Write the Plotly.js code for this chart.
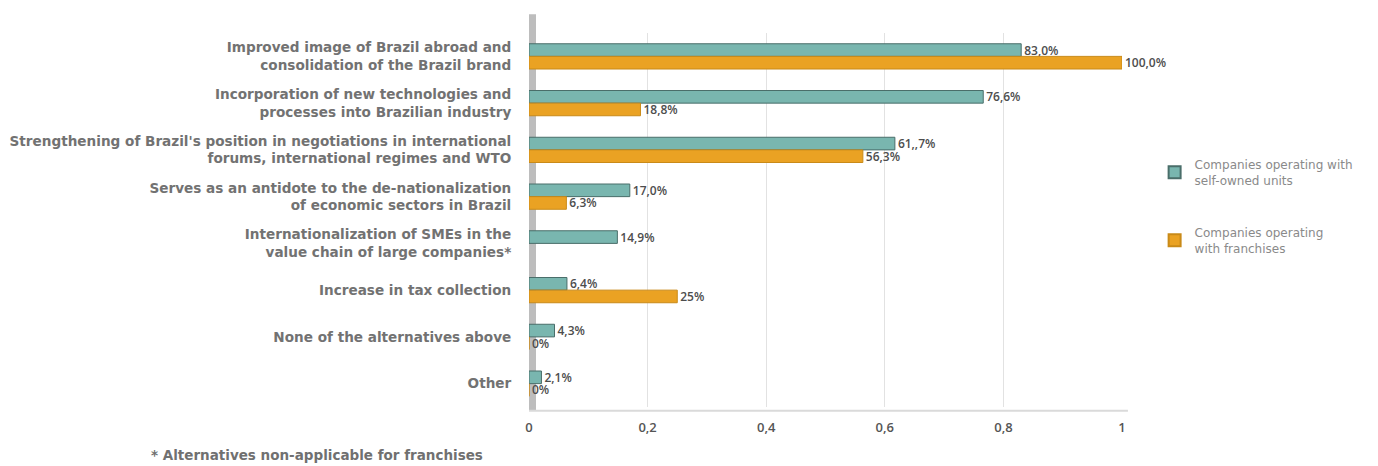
<!DOCTYPE html>
<html>
<head>
<meta charset="utf-8">
<script src="https://cdn.plot.ly/plotly-3.0.1.min.js"></script>
<style>html,body{margin:0;padding:0;background:#fff;}#chart{width:1378px;height:466px;}</style>
</head>
<body>
<div id="chart"></div>
<script>
const categories = [
  "Improved image of Brazil abroad and<br>consolidation of the Brazil brand",
  "Incorporation of new technologies and<br>processes into Brazilian industry",
  "Strengthening of Brazil's position in negotiations in international<br>forums, international regimes and WTO",
  "Serves as an antidote to the de-nationalization<br>of economic sectors in Brazil",
  "Internationalization of SMEs in the<br>value chain of large companies*",
  "Increase in tax collection",
  "None of the alternatives above",
  "Other"
];
const selfOwned = [0.830, 0.766, 0.617, 0.170, 0.149, 0.064, 0.043, 0.021];
const selfOwnedLabels = ["83,0%", "76,6%", "61,,7%", "17,0%", "14,9%", "6,4%", "4,3%", "2,1%"];
const franchises = [1.000, 0.188, 0.563, 0.063, null, 0.25, 0, 0];
const franchisesLabels = ["100,0%", "18,8%", "56,3%", "6,3%", "", "25%", "0%", "0%"];
const tickVals = [0, 0.2, 0.4, 0.6, 0.8, 1];
const tickLabels = ["0", "0,2", "0,4", "0,6", "0,8", "1"];
const seriesNames = ["Companies operating with<br>self-owned units", "Companies operating<br>with franchises"];
const footnote = "* Alternatives non-applicable for franchises";

const labelFont = {family: "Open Sans, sans-serif", size: 12, color: "#4d4d4d", weight: 600};

const traces = [
  {
    type: "bar", orientation: "h", name: seriesNames[0], legendgroup: "a",
    y: categories, x: selfOwned, text: selfOwnedLabels,
    textposition: "outside", constraintext: "none", cliponaxis: false, textfont: labelFont,
    marker: {color: "#79b6af", line: {color: "#4a6e6a", width: 1}},
    hoverinfo: "skip"
  },
  {
    type: "bar", orientation: "h", name: seriesNames[1], legendgroup: "b",
    y: categories, x: franchises, text: franchisesLabels,
    textposition: "outside", constraintext: "none", cliponaxis: false, textfont: labelFont,
    marker: {color: "#eaa223", line: {color: "#c98a18", width: 1}},
    hoverinfo: "skip"
  }
];

const layout = {
  width: 1378, height: 466,
  margin: {l: 529, r: 256, t: 33, b: 59},
  paper_bgcolor: "#ffffff", plot_bgcolor: "#ffffff",
  barmode: "group", bargap: 0.46, bargroupgap: 0,
  showlegend: true,
  legend: {
    x: 1.055, xanchor: "left", y: 0.687, yanchor: "top",
    font: {family: "DejaVu Sans, sans-serif", size: 12, color: "#8a8a8a"},
    tracegroupgap: 34, itemsizing: "constant", bgcolor: "rgba(0,0,0,0)"
  },
  xaxis: {
    range: [0, 1], tickvals: tickVals, ticktext: tickLabels,
    showgrid: true, gridcolor: "#e2e2e2", gridwidth: 1,
    zeroline: false, showline: false,
    tickfont: {family: "Open Sans, sans-serif", size: 13, color: "#555555", weight: 600},
    ticks: "outside", ticklen: 8, tickcolor: "rgba(0,0,0,0)"
  },
  yaxis: {
    autorange: "reversed", type: "category",
    showgrid: false, zeroline: false, showline: false,
    tickfont: {family: "DejaVu Sans, sans-serif", size: 13.6, color: "#727272", weight: "bold"},
    ticks: "outside", ticklen: 14, tickcolor: "rgba(0,0,0,0)"
  },
  shapes: [
    {type: "rect", xref: "x", yref: "paper", xsizemode: "pixel", xanchor: 0,
     x0: -1, x1: 7, y0: -0.01, y1: 1.05, fillcolor: "#bdbdbd", line: {width: 0}, layer: "below"},
    {type: "line", xref: "paper", yref: "paper", x0: 0, x1: 1.01, y0: -0.01, y1: -0.01,
     line: {color: "#dadada", width: 2}, layer: "below"}
  ],
  annotations: [
    {text: footnote, xref: "paper", yref: "paper", x: -0.64, y: -0.128, xanchor: "left", yanchor: "middle",
     showarrow: false, font: {family: "DejaVu Sans, sans-serif", size: 13.5, color: "#707070", weight: "bold"}}
  ]
};

Plotly.newPlot("chart", traces, layout, {displayModeBar: false, staticPlot: true});
</script>
</body>
</html>
